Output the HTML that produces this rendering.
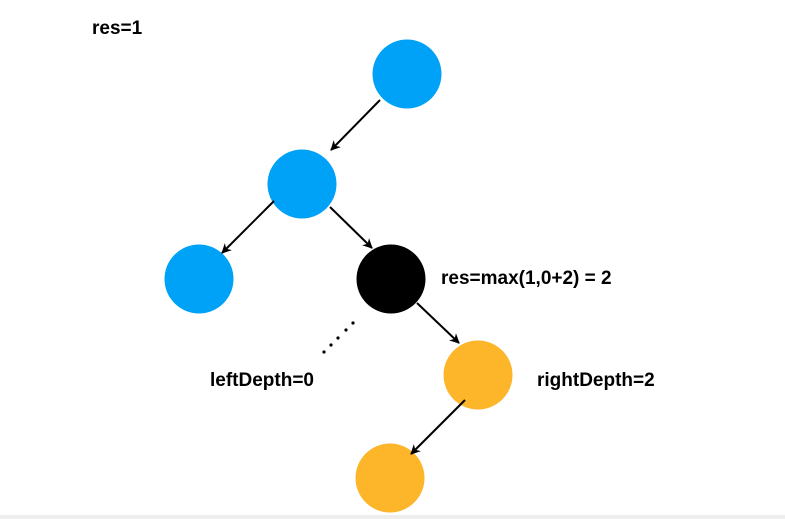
<!DOCTYPE html>
<html><head><style>
html,body{margin:0;padding:0;background:#fff;}
svg{display:block;}
text{font-family:"Liberation Sans",Arial,sans-serif;font-weight:bold;font-size:19px;fill:#000;}
</style></head><body>
<svg width="785" height="519" viewBox="0 0 785 519" xmlns="http://www.w3.org/2000/svg">
<defs>
<marker id="a" markerWidth="10" markerHeight="10" refX="9" refY="5" orient="auto" markerUnits="userSpaceOnUse">
<path d="M0,0 L10,5 L0,10 L3,5 Z" fill="#000"/>
</marker>
</defs>
<rect x="0" y="515" width="785" height="4" fill="#eeeeee"/>
<circle cx="407" cy="74" r="34.5" fill="#00a2f8"/>
<circle cx="302" cy="184" r="34.5" fill="#00a2f8"/>
<circle cx="199" cy="279" r="34.5" fill="#00a2f8"/>
<circle cx="391" cy="279" r="34.5" fill="#000"/>
<circle cx="478" cy="375" r="34.5" fill="#fdb52a"/>
<circle cx="390" cy="478" r="34.5" fill="#fdb52a"/>
<g stroke="#000" stroke-width="2" marker-end="url(#a)">
<line x1="380" y1="100" x2="331" y2="150"/>
<line x1="274" y1="201" x2="222" y2="253"/>
<line x1="330" y1="207" x2="372" y2="248"/>
<line x1="417" y1="303" x2="459" y2="343"/>
<line x1="465" y1="400" x2="411" y2="454"/>
</g>
<g fill="#000">
<circle cx="324" cy="352" r="1.6"/>
<circle cx="331" cy="345" r="1.6"/>
<circle cx="338" cy="338" r="1.6"/>
<circle cx="346" cy="330" r="1.6"/>
<circle cx="353" cy="323" r="1.6"/>
</g>
<text x="92" y="34">res=1</text>
<text x="441" y="284">res=max(1,0+2) = 2</text>
<text x="210" y="386">leftDepth=0</text>
<text x="537" y="386">rightDepth=2</text>
</svg>
</body></html>
